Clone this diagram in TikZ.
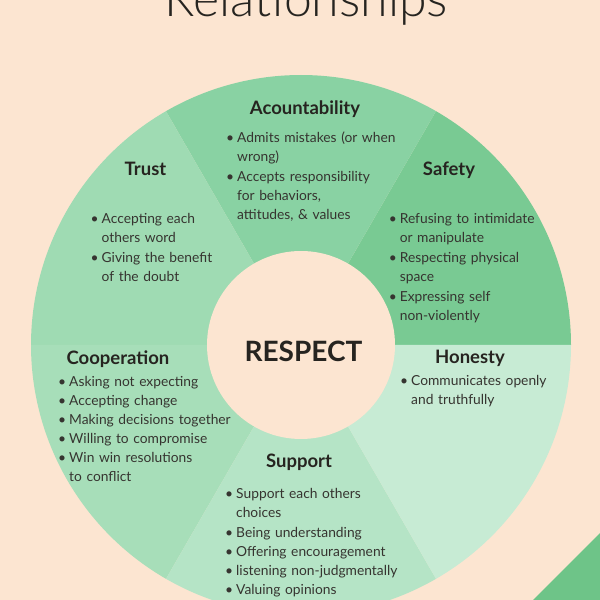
\documentclass[tikz,border=0pt]{standalone}
\usepackage{fontspec}
\setmainfont{Lato}
\newfontfamily\titlefont{Lato Light}
\definecolor{peach}{HTML}{FCE5D1}
\definecolor{ink}{HTML}{262420}
\definecolor{body}{HTML}{363430}
\definecolor{safetyc}{HTML}{79CA93}
\definecolor{accc}{HTML}{89D2A3}
\definecolor{trustc}{HTML}{9FDBB3}
\definecolor{coopc}{HTML}{A7DEB9}
\definecolor{suppc}{HTML}{B5E4C6}
\definecolor{honc}{HTML}{C7EBD4}
\definecolor{cornerc}{HTML}{6EC488}
% one bullet point, lines of the item given with \\
\newcommand{\itm}[1]{\par\noindent\strut\makebox[11pt][l]{\textbullet}\begin{tabular}[t]{@{}l@{}}#1\end{tabular}\par}
\begin{document}
\begin{tikzpicture}[x=1pt,y=1pt,font=\fontsize{13.8}{19}\selectfont,
	head/.style={font=\fontsize{18.5}{21}\selectfont\bfseries,text=ink,inner sep=0pt},
	list/.style={anchor=north west,inner sep=0pt,text width=220pt,text=body}]
	\useasboundingbox (0,0) rectangle (600,600);
	\fill[peach] (0,0) rectangle (600,600);
	\fill[cornerc] (533,0) -- (600,67) -- (600,0) -- cycle;
	\coordinate (c) at (301,255);
	% the six parts of the wheel
	\foreach \a/\col in {0/safetyc,60/accc,120/trustc,180/coopc,240/suppc,300/honc}
		\fill[\col] (c) -- ++(\a:270) arc[start angle=\a,end angle=\a+60,radius=270] -- cycle;
	\fill[peach] (c) circle (94);
	\node[font=\titlefont\fontsize{50}{52}\selectfont,text=ink,anchor=base] (title) at (306.5,583) {Relationships};
	\node[font=\fontsize{28}{30}\selectfont\bfseries,text=ink,inner sep=0pt] (respect) at (303.5,249) {RESPECT};
	% headings
	\node[head] (acc) at (305,490.5) {Acountability};
	\node[head] (trust) at (145.5,431.5) {Trust};
	\node[head] (safety) at (449,429.5) {Safety};
	\node[head] (coop) at (118,240.5) {Cooperation};
	\node[head] (honesty) at (470,241.5) {Honesty};
	\node[head] (support) at (299,137.5) {Support};
	% bullet lists
	\node[list] (acclist) at (226,476.7) {\itm{Admits mistakes (or when\\wrong)}\itm{Accepts responsibility\\for behaviors,\\attitudes, \& values}};
	\node[list] (trustlist) at (90.5,395.7) {\itm{Accepting each\\others word}\itm{Giving the benefit\\of the doubt}};
	\node[list] (safetylist) at (388.6,395.7) {\itm{Refusing to intimidate\\or manipulate}\itm{Respecting physical\\space}\itm{Expressing self\\non-violently}};
	\node[list] (cooplist) at (58,232.7) {\itm{Asking not expecting}\itm{Accepting change}\itm{Making decisions together}\itm{Willing to compromise}\itm{Win win resolutions\\to conflict}};
	\node[list] (honlist) at (400,233.7) {\itm{Communicates openly\\and truthfully}};
	\node[list] (supplist) at (225,120.7) {\itm{Support each others\\choices}\itm{Being understanding}\itm{Offering encouragement}\itm{listening non-judgmentally}\itm{Valuing opinions}};
\end{tikzpicture}
\end{document}
